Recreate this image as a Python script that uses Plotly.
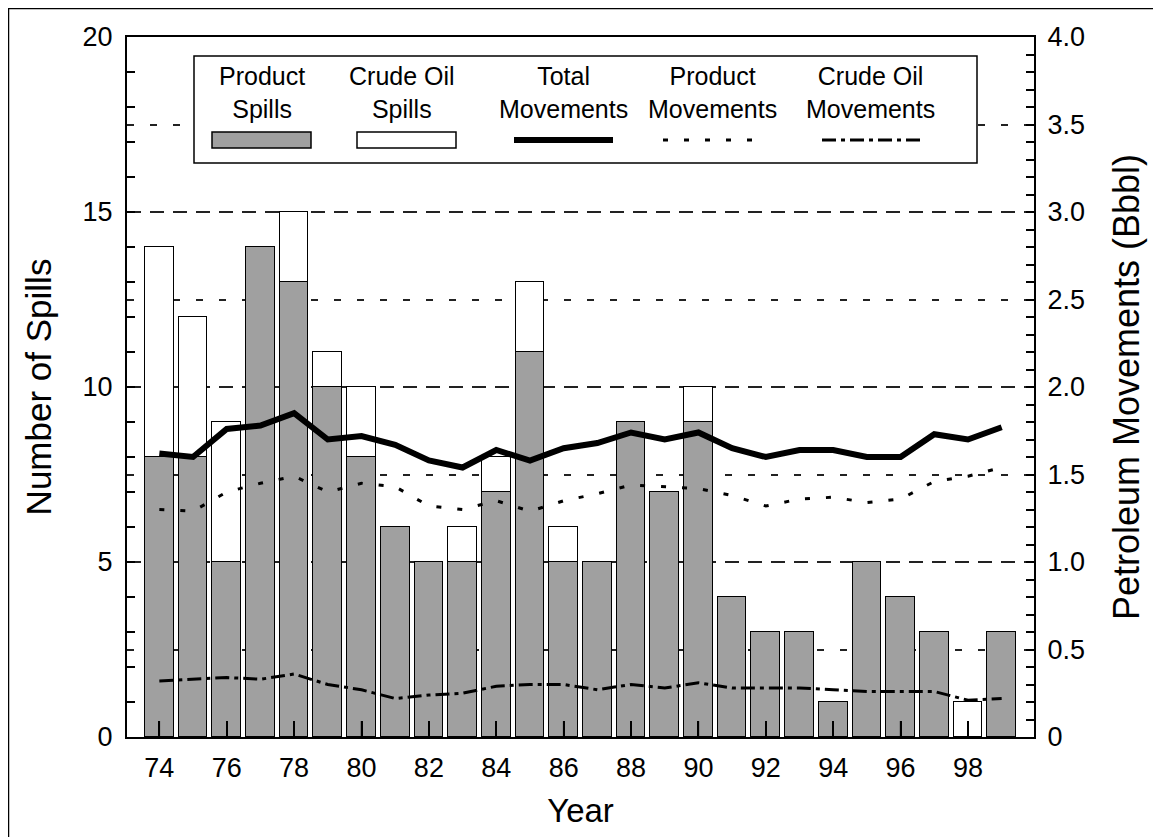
import plotly.graph_objects as go

# spill counts by year (19xx)
years = list(range(74, 100))
product_spills = [8, 8, 5, 14, 13, 10, 8, 6, 5, 5, 7, 11, 5, 5, 9, 7, 9, 4, 3, 3, 1, 5, 4, 3, 0, 3]
crude_spills = [6, 4, 4, 0, 2, 1, 2, 0, 0, 1, 1, 2, 1, 0, 0, 0, 1, 0, 0, 0, 0, 0, 0, 0, 1, 0]

# petroleum movements, billions of barrels
total_moves = [1.62, 1.60, 1.76, 1.78, 1.85, 1.70, 1.72, 1.67, 1.58, 1.54, 1.64, 1.58, 1.65,
               1.68, 1.74, 1.70, 1.74, 1.65, 1.60, 1.64, 1.64, 1.60, 1.60, 1.73, 1.70, 1.77]
product_moves = [1.30, 1.29, 1.40, 1.45, 1.49, 1.40, 1.45, 1.43, 1.32, 1.30, 1.35, 1.29, 1.35,
                 1.39, 1.44, 1.43, 1.42, 1.38, 1.32, 1.36, 1.37, 1.34, 1.36, 1.46, 1.49, 1.54]
crude_moves = [0.32, 0.33, 0.34, 0.33, 0.36, 0.30, 0.27, 0.22, 0.24, 0.25, 0.29, 0.30, 0.30,
               0.27, 0.30, 0.28, 0.31, 0.28, 0.28, 0.28, 0.27, 0.26, 0.26, 0.26, 0.21, 0.22]

year_ticks = list(range(74, 100, 2))
move_ticks = [0, 0.5, 1.0, 1.5, 2.0, 2.5, 3.0, 3.5, 4.0]
move_labels = ["0", "0.5", "1.0", "1.5", "2.0", "2.5", "3.0", "3.5", "4.0"]

legend_labels = ["Product<br>Spills", "Crude Oil<br>Spills", "Total<br>Movements",
                 "Product<br>Movements", "Crude Oil<br>Movements"]

FONT = "Liberation Sans, Arial, sans-serif"
# the page body adds 8px on the left and top, so the figure is 8px smaller
OFF = 8
W, H = 1161 - OFF, 837 - OFF
L, T = 127 - OFF, 37 - OFF
PW, PH = 907, 700
R, B = W - L - PW, H - T - PH

# page pixel -> paper coordinate (for frame and legend decorations)
def px(x):
    return (x - OFF - L) / PW

def py(y):
    return (T + PH - (y - OFF)) / PH

fig = go.Figure()

fig.add_trace(go.Bar(x=years, y=product_spills, width=0.85, name="Product Spills",
                     marker=dict(color="#a0a0a0", line=dict(color="black", width=1.5))))
fig.add_trace(go.Bar(x=years, y=crude_spills, width=0.85, name="Crude Oil Spills",
                     marker=dict(color="white", line=dict(color="black", width=1.5))))

fig.add_trace(go.Scatter(x=years, y=total_moves, yaxis="y2", mode="lines",
                         line=dict(color="black", width=6)))
fig.add_trace(go.Scatter(x=years, y=product_moves, yaxis="y2", mode="lines",
                         line=dict(color="black", width=3, dash="5px,16px")))
fig.add_trace(go.Scatter(x=years, y=crude_moves, yaxis="y2", mode="lines",
                         line=dict(color="black", width=3, dash="14px,5px,4px,5px")))

# short-dash grid at the half steps, carried by an invisible overlay axis
fig.add_trace(go.Scatter(x=[years[0]], y=[0], yaxis="y3", mode="markers",
                         marker=dict(opacity=0), hoverinfo="skip"))

shapes = []
# outer frame around the whole picture
shapes.append(dict(type="rect", xref="paper", yref="paper", x0=px(8), x1=px(1157),
                   y0=py(850), y1=py(8), line=dict(color="black", width=2.5)))
# year ticks drawn over the bars
for yr in year_ticks:
    shapes.append(dict(type="line", xref="x", yref="paper", x0=yr, x1=yr, y0=0, y1=16 / PH,
                       line=dict(color="black", width=1.5), layer="above"))
# legend box
shapes.append(dict(type="rect", xref="paper", yref="paper", x0=px(194), x1=px(977),
                   y0=py(163), y1=py(56), line=dict(color="black", width=1.5),
                   fillcolor="white", layer="above"))
shapes.append(dict(type="rect", xref="paper", yref="paper", x0=px(212), x1=px(311),
                   y0=py(148), y1=py(132), line=dict(color="black", width=1.5),
                   fillcolor="#a0a0a0"))
shapes.append(dict(type="rect", xref="paper", yref="paper", x0=px(357), x1=px(456),
                   y0=py(148), y1=py(132), line=dict(color="black", width=1.5),
                   fillcolor="white"))
shapes.append(dict(type="line", xref="paper", yref="paper", x0=px(514), x1=px(613),
                   y0=py(140), y1=py(140), line=dict(color="black", width=6)))
shapes.append(dict(type="line", xref="paper", yref="paper", x0=px(663), x1=px(762),
                   y0=py(140), y1=py(140), line=dict(color="black", width=3, dash="5px,16px")))
shapes.append(dict(type="line", xref="paper", yref="paper", x0=px(822), x1=px(920),
                   y0=py(140), y1=py(140),
                   line=dict(color="black", width=3, dash="14px,5px,4px,5px")))

legend_x = [262, 402, 563, 712, 870]
annotations = [dict(text=t, x=px(x), y=py(92), xref="paper", yref="paper", showarrow=False,
                    xanchor="center", yanchor="middle", font=dict(family=FONT, size=25, color="black"))
               for t, x in zip(legend_labels, legend_x)]

fig.update_layout(
    width=W, height=H,
    margin=dict(l=L, r=R, t=T, b=B, autoexpand=False),
    paper_bgcolor="white", plot_bgcolor="white",
    barmode="stack", bargap=0, showlegend=False,
    font=dict(family=FONT, size=27, color="black"),
    shapes=shapes, annotations=annotations,
    xaxis=dict(range=[73.04, 99.96], tickvals=year_ticks, ticktext=[str(y) for y in year_ticks],
               ticks="inside", ticklen=16, tickwidth=1.5, tickcolor="black", ticklabelstandoff=6,
               showline=True, linecolor="black", linewidth=2, mirror=True,
               showgrid=False, zeroline=False, automargin=False,
               title=dict(text="Year", font=dict(size=33), standoff=16)),
    yaxis=dict(range=[0, 20], dtick=5, ticks="inside", ticklen=8, tickwidth=1.5, tickcolor="black",
               ticklabelstandoff=7,
               showline=True, linecolor="black", linewidth=2,
               showgrid=True, gridcolor="#222", gridwidth=1.5, griddash="14px,9px",
               zeroline=False, automargin=False,
               minor=dict(dtick=1, ticks="inside", ticklen=8, tickwidth=1.5, tickcolor="black",
                          showgrid=False),
               title=dict(text="Number of Spills", font=dict(size=35), standoff=20)),
    yaxis2=dict(range=[0, 4], tickvals=move_ticks, ticktext=move_labels,
                overlaying="y", side="right",
                ticks="inside", ticklen=8, tickwidth=1.5, tickcolor="black", ticklabelstandoff=6,
                showline=True, linecolor="black", linewidth=2,
                showgrid=False, zeroline=False, automargin=False,
                minor=dict(dtick=0.1, ticks="inside", ticklen=8, tickwidth=1.5, tickcolor="black"),
                title=dict(text="Petroleum Movements (Bbbl)", font=dict(size=36), standoff=30)),
    yaxis3=dict(range=[0, 20], tick0=2.5, dtick=5, overlaying="y", showticklabels=False,
                ticks="", showline=False, zeroline=False, automargin=False,
                showgrid=True, gridcolor="#222", gridwidth=1.5, griddash="7px,16px"),
)

fig.write_html("out.html")
